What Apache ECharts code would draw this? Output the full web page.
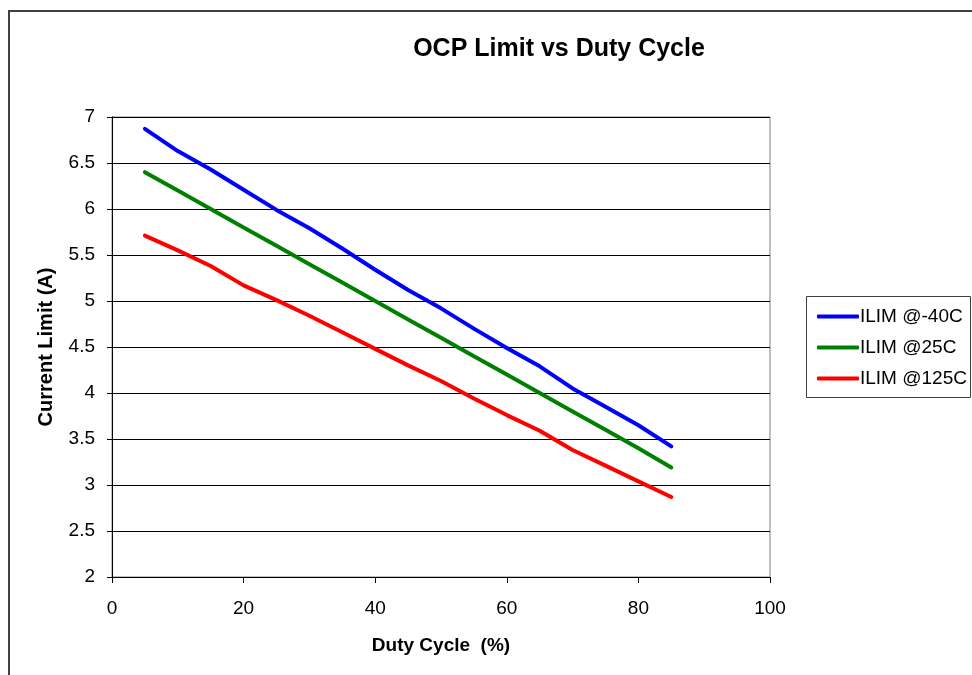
<!DOCTYPE html>
<html>
<head>
<meta charset="utf-8">
<script src="https://cdn.jsdelivr.net/npm/echarts@6/dist/echarts.min.js"></script>
<style>
  html, body { margin: 0; padding: 0; background: #fff; }
  #chart { width: 972px; height: 675px; }
</style>
</head>
<body>
<div id="chart"></div>
<script>
// 数据
var dutyCycle = [5, 10, 15, 20, 25, 30, 35, 40, 45, 50, 55, 60, 65, 70, 75, 80, 85];
var ilimM40 = [6.87, 6.63, 6.43, 6.21, 5.99, 5.79, 5.57, 5.34, 5.12, 4.92, 4.70, 4.49, 4.29, 4.05, 3.85, 3.65, 3.42];
var ilim25 = [6.40, 6.20, 6.00, 5.80, 5.60, 5.40, 5.20, 5.00, 4.80, 4.60, 4.40, 4.20, 4.00, 3.80, 3.60, 3.40, 3.19];
var ilim125 = [5.71, 5.55, 5.38, 5.17, 5.01, 4.84, 4.66, 4.48, 4.30, 4.13, 3.94, 3.76, 3.59, 3.38, 3.21, 3.04, 2.87];
var seriesNames = ['ILIM @-40C', 'ILIM @25C', 'ILIM @125C'];

function pairs(ys) {
    return dutyCycle.map(function (x, i) { return [x, ys[i]]; });
}

var dom = document.getElementById("chart");
var myChart = echarts.init(dom);
var font = 'Liberation Sans, Arial, sans-serif';

var option = {
    animation: false,
    backgroundColor: '#fff',
    textStyle: { fontFamily: font },
    title: {
        text: 'OCP Limit vs Duty Cycle',
        left: 554,
        textAlign: 'center',
        top: 32,
        textStyle: { fontSize: 25, fontWeight: 'bold', color: '#000', fontFamily: font }
    },
    // 外框
    graphic: [{
        type: 'rect',
        shape: { x: 9, y: 11, width: 1000, height: 700 },
        style: { fill: null, stroke: '#404040', lineWidth: 2 },
        silent: true
    }, {
        // 图例框
        type: 'rect',
        shape: { x: 806.5, y: 296.5, width: 164, height: 101 },
        style: { fill: '#fff', stroke: '#404040', lineWidth: 1 },
        silent: true,
        z: 0
    }],
    legend: {
        orient: 'vertical',
        left: 812,
        top: 302,
        itemWidth: 42,
        itemHeight: 4,
        itemGap: 12,
        icon: 'roundRect',
        data: seriesNames,
        textStyle: { fontSize: 19, color: '#000', fontFamily: font, padding: [0, 0, 0, -4] },
        z: 5
    },
    grid: {
        left: 112,
        right: 202,
        top: 117,
        bottom: 98,
        show: true,
        borderColor: '#808080',
        borderWidth: 1
    },
    xAxis: {
        type: 'value',
        min: 0,
        max: 100,
        interval: 20,
        name: 'Duty Cycle  (%)',
        nameLocation: 'middle',
        nameGap: 59,
        nameTextStyle: { fontSize: 19, fontWeight: 'bold', color: '#000' },
        axisLine: { onZero: false, lineStyle: { color: '#000', width: 1 } },
        axisTick: { show: true, length: 6, inside: false, lineStyle: { color: '#000' } },
        axisLabel: { fontSize: 19, color: '#000', margin: 22 },
        splitLine: { show: false }
    },
    yAxis: {
        type: 'value',
        min: 2,
        max: 7,
        interval: 0.5,
        name: 'Current Limit (A)',
        nameLocation: 'middle',
        nameGap: 56,
        nameTextStyle: { fontSize: 20, fontWeight: 'bold', color: '#000' },
        axisLine: { show: true, lineStyle: { color: '#000', width: 1 } },
        axisTick: { show: true, length: 5, lineStyle: { color: '#000' } },
        axisLabel: { fontSize: 19, color: '#000', margin: 17 },
        splitLine: { show: true, lineStyle: { color: '#000', width: 1 } }
    },
    series: [{
        name: seriesNames[0],
        type: 'line',
        data: pairs(ilimM40),
        showSymbol: false,
        color: '#0000ff',
        lineStyle: { width: 4, cap: 'round', join: 'round' }
    }, {
        name: seriesNames[1],
        type: 'line',
        data: pairs(ilim25),
        showSymbol: false,
        color: '#008000',
        lineStyle: { width: 4, cap: 'round', join: 'round' }
    }, {
        name: seriesNames[2],
        type: 'line',
        data: pairs(ilim125),
        showSymbol: false,
        color: '#ff0000',
        lineStyle: { width: 4, cap: 'round', join: 'round' }
    }]
};

if (option && typeof option === "object") {
    myChart.setOption(option, true);
}
</script>
</body>
</html>
